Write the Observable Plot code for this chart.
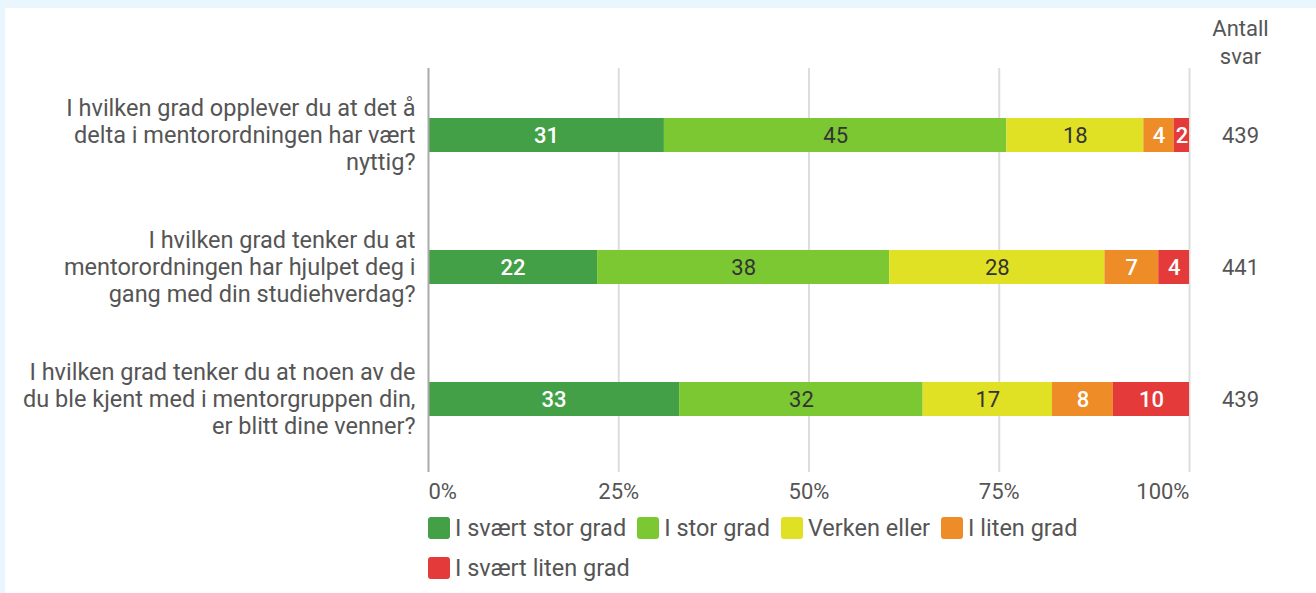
<!DOCTYPE html>
<html>
<head>
<meta charset="utf-8">
<script src="https://cdn.jsdelivr.net/npm/d3@7"></script>
<script src="https://cdn.jsdelivr.net/npm/@observablehq/plot@0.6"></script>
<style>
  html, body { margin: 0; padding: 0; background: #e9f6fd; width: 1316px; height: 593px; overflow: hidden; }
  #panel { position: absolute; left: 5px; top: 8px; right: 0; bottom: 0; background: #fff; font-family: Roboto, sans-serif; color: #555; }
  #legend { margin-left: 423px; width: 770px; display: flex; flex-wrap: wrap; column-gap: 11px; font-size: 23.5px; }
  .item { display: flex; align-items: center; height: 40px; }
  .sw { width: 22px; height: 22px; border-radius: 3px; margin-right: 5px; }
</style>
</head>
<body>
<div id="panel"><div id="chart"></div><div id="legend"></div></div>
<script>
const questions = [
  "I hvilken grad opplever du at det å\ndelta i mentorordningen har vært\nnyttig?",
  "I hvilken grad tenker du at\nmentorordningen har hjulpet deg i\ngang med din studiehverdag?",
  "I hvilken grad tenker du at noen av de\ndu ble kjent med i mentorgruppen din,\ner blitt dine venner?"
];
const categories = ["I svært stor grad", "I stor grad", "Verken eller", "I liten grad", "I svært liten grad"];
const colors = ["#43a047", "#7cc832", "#e0e024", "#ee8c28", "#e53a3a"];
const darkLabelCats = ["I stor grad", "Verken eller"];
const values = [
  [31, 45, 18, 4, 2],
  [22, 38, 28, 7, 4],
  [33, 32, 17, 8, 10]
];
const counts = [439, 441, 439];
const countHeader = "Antall\nsvar";
const xTicks = [0, 0.25, 0.5, 0.75, 1];
const xTickLabels = ["0%", "25%", "50%", "75%", "100%"];

const data = [];
questions.forEach((q, i) => categories.forEach((c, j) => data.push({q, cat: c, value: values[i][j]})));
const rows = questions.map((q, i) => ({q, n: counts[i]}));
const ticks = xTicks.map((t, i) => ({t, label: xTickLabels[i], i}));
const isDark = d => darkLabelCats.includes(d.cat);

const stackOpts = {x: "value", y: "q", z: "cat", offset: "normalize"};

const chart = Plot.plot({
  width: 1311,
  height: 500,
  marginLeft: 423,
  marginRight: 127,
  marginTop: 60,
  marginBottom: 42,
  style: {fontFamily: "Roboto, sans-serif", fontSize: "23.5px", color: "#555", background: "#fff", overflow: "visible"},
  x: {domain: [0, 1], axis: null},
  y: {domain: questions, axis: null, padding: 0},
  color: {domain: categories, range: colors},
  marks: [
    Plot.ruleX(xTicks.slice(1), {x: d => d, stroke: "#dddddd", strokeWidth: 2, insetBottom: -6}),
    Plot.barX(data, Plot.stackX({...stackOpts, fill: "cat", insetTop: 49, insetBottom: 49})),
    Plot.ruleX([0], {stroke: "#aaaaaa", strokeWidth: 2, insetBottom: -6}),
    Plot.text(data, Plot.stackX({
      ...stackOpts,
      text: d => isDark(d) ? "" : d.value,
      fill: "#fff", fontSize: 22, fontWeight: 500
    })),
    Plot.text(data, Plot.stackX({
      ...stackOpts,
      text: d => isDark(d) ? d.value : "",
      fill: "#333", fontSize: 22
    })),
    Plot.text(questions, {y: d => d, text: d => d, frameAnchor: "left", textAnchor: "end", dx: -13, dy: -1, lineHeight: 1.15, fill: "#555"}),
    Plot.text(rows, {y: "q", x: () => 1, text: "n", dx: 51, fill: "#555", fontSize: 22}),
    Plot.text([countHeader], {x: () => 1, text: d => d, frameAnchor: "top", dx: 51, dy: -27, lineAnchor: "middle", lineHeight: 1.27, fill: "#555", fontSize: 22}),
    Plot.text(ticks.filter(d => d.i === 0), {x: "t", text: "label", frameAnchor: "bottom", dy: 25, lineAnchor: "middle", textAnchor: "start", fill: "#555", fontSize: 22}),
    Plot.text(ticks.filter(d => d.i > 0 && d.i < ticks.length - 1), {x: "t", text: "label", frameAnchor: "bottom", dy: 25, lineAnchor: "middle", textAnchor: "middle", fill: "#555", fontSize: 22}),
    Plot.text(ticks.filter(d => d.i === ticks.length - 1), {x: "t", text: "label", frameAnchor: "bottom", dy: 25, lineAnchor: "middle", textAnchor: "end", fill: "#555", fontSize: 22})
  ]
});
document.getElementById("chart").appendChild(chart);

const legend = document.getElementById("legend");
categories.forEach((c, i) => {
  const item = document.createElement("div");
  item.className = "item";
  const sw = document.createElement("div");
  sw.className = "sw";
  sw.style.background = colors[i];
  const label = document.createElement("span");
  label.textContent = c;
  item.appendChild(sw);
  item.appendChild(label);
  legend.appendChild(item);
});
</script>
</body>
</html>
